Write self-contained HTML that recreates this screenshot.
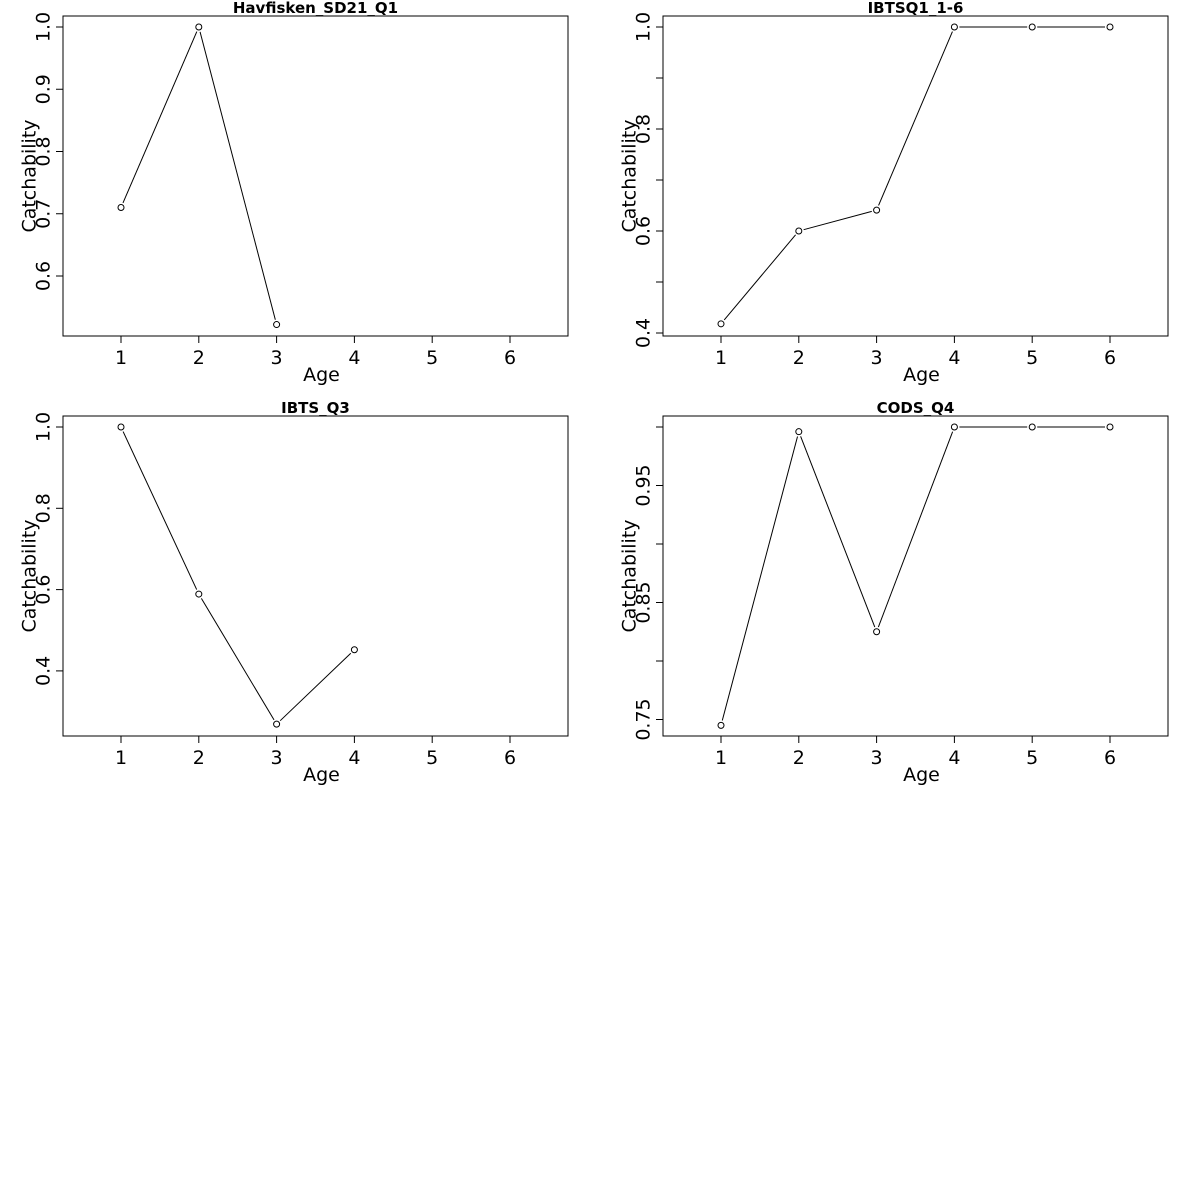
<!DOCTYPE html>
<html><head><meta charset="utf-8"><style>
html,body{margin:0;padding:0;background:#fff;}
svg{display:block;font-family:"DejaVu Sans","Liberation Sans",sans-serif;}
</style></head><body>
<svg id="c" width="1200" height="1200" xmlns="http://www.w3.org/2000/svg"></svg>
<script>
const titles = ["Havfisken_SD21_Q1","IBTSQ1_1-6","IBTS_Q3","CODS_Q4"];
const ages = [1,2,3,4,5,6];
const xTicks = [1,2,3,4,5,6];
const series1 = [0.71,1.0,0.522];
const series2 = [0.418,0.6,0.641,1.0,1.0,1.0];
const series3 = [1.0,0.589,0.269,0.452];
const series4 = [0.745,0.996,0.825,1.0,1.0,1.0];
const yTicks1 = [0.6,0.7,0.8,0.9,1.0];
const yLabels1 = ["0.6","0.7","0.8","0.9","1.0"];
const yTicks2 = [0.4,0.5,0.6,0.7,0.8,0.9,1.0];
const yLabels2 = ["0.4","","0.6","","0.8","","1.0"];
const yTicks3 = [0.4,0.6,0.8,1.0];
const yLabels3 = ["0.4","0.6","0.8","1.0"];
const yTicks4 = [0.75,0.8,0.85,0.9,0.95,1.0];
const yLabels4 = ["0.75","","0.85","","0.95",""];

const NS="http://www.w3.org/2000/svg";
const svg=document.getElementById('c');
function mk(tag,attrs,parent){const e=document.createElementNS(NS,tag);for(const k in attrs)e.setAttribute(k,attrs[k]);(parent||svg).appendChild(e);return e;}

// panel config: left, top, value at refPix (v0,p0), pixels per unit
const panels=[
 {L:63,T:16,data:series1,yt:yTicks1,yl:yLabels1,v0:1.0,p0:27,ppu:622.5},
 {L:663,T:16,data:series2,yt:yTicks2,yl:yLabels2,v0:1.0,p0:27,ppu:510},
 {L:63,T:416,data:series3,yt:yTicks3,yl:yLabels3,v0:1.0,p0:427,ppu:406.5},
 {L:663,T:416,data:series4,yt:yTicks4,yl:yLabels4,v0:1.0,p0:427,ppu:1170}
];
panels.forEach((p,i)=>{
  const g=mk('g',{});
  
  
  const W=505,H=320;
  const xs=v=>p.L+58+(v-1)*77.8;
  const ys=v=>p.p0+(p.v0-v)*p.ppu;
  const box=mk('rect',{x:p.L,y:p.T,width:W,height:H,fill:'none',stroke:'#000','stroke-width':1},g);
  
  
  const t=mk('text',{x:p.L+W/2,y:p.T-3,'text-anchor':'middle','font-size':15,'font-weight':'bold'},g);
  t.textContent=titles[i];
  
  
  xTicks.forEach(v=>{
    const x=xs(v);
    mk('line',{x1:x,x2:x,y1:p.T+H,y2:p.T+H+7,stroke:'#000'},g);
    const tl=mk('text',{x:x,y:p.T+H+28,'text-anchor':'middle','font-size':19},g);
    tl.textContent=v;
    
    
  });
  const xl=mk('text',{x:p.L+W/2+6,y:p.T+H+45,'text-anchor':'middle','font-size':19},g);
  xl.textContent='Age';
  
  
  p.yt.forEach((v,k)=>{
    const y=ys(v);
    mk('line',{x1:p.L-7,x2:p.L,y1:y,y2:y,stroke:'#000'},g);
    if(p.yl[k]){
      const tl=mk('text',{x:p.L-20,y:y,'text-anchor':'middle','font-size':19,transform:`rotate(-90 ${p.L-20} ${y})`,dy:'0.35em'},g);
      tl.textContent=p.yl[k];
      
      
    }
  });
  const yc=p.T+160, yx=p.L-34;
  const yl=mk('text',{x:yx,y:yc,'text-anchor':'middle','font-size':19,transform:`rotate(-90 ${yx} ${yc})`,dy:'0.35em'},g);
  yl.textContent='Catchability';
  
  
  const pts=p.data.map((v,k)=>[xs(ages[k]),ys(v)]);
  for(let k=0;k<pts.length-1;k++){
    const [x1,y1]=pts[k],[x2,y2]=pts[k+1];
    const dx=x2-x1,dy=y2-y1,d=Math.hypot(dx,dy),r=5;
    const ln=mk('line',{x1:x1+dx/d*r,y1:y1+dy/d*r,x2:x2-dx/d*r,y2:y2-dy/d*r,stroke:'#000','stroke-width':1},g);
    
    
  }
  pts.forEach(([x,y])=>{
    const c=mk('circle',{cx:x,cy:y,r:3,fill:'none',stroke:'#000','stroke-width':1},g);
    
    
  });
});
</script>
</body></html>
